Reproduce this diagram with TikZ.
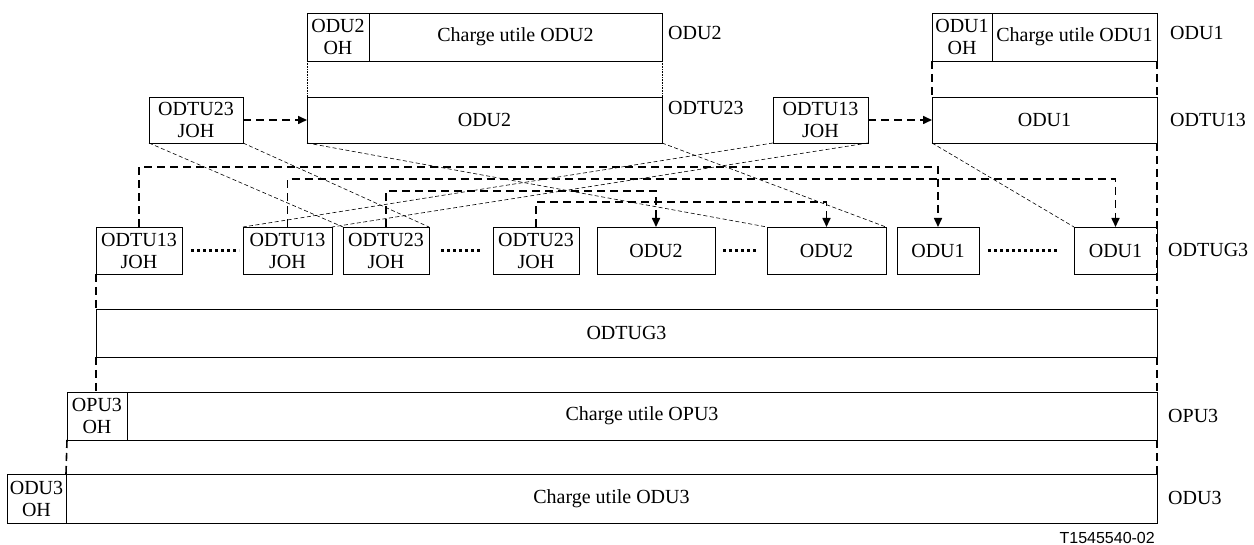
\documentclass[tikz,border=0pt]{standalone}
\usepackage{fontspec}
\setmainfont{Liberation Serif}
\newfontfamily\arialf{Liberation Sans}
\usetikzlibrary{arrows.meta}
\begin{document}
\begin{tikzpicture}[x=1pt,y=-1pt,
 box/.style={draw, line width=0.9pt, inner sep=0pt, outer sep=0pt, align=center, anchor=north west, font=\fontsize{20}{22}\selectfont},
 lbl/.style={anchor=west, inner sep=0pt, font=\fontsize{20}{22}\selectfont},
 bigdash/.style={line width=1.6pt, dash pattern=on 8pt off 5pt},
 thindash/.style={line width=0.6pt, dash pattern=on 4pt off 2.5pt},
 finedot/.style={line width=0.6pt, dash pattern=on 0.8pt off 0.8pt},
 dotrow/.style={line width=3pt, dash pattern=on 3pt off 3pt},
 arr/.style={-{Triangle[length=9pt,width=8pt]}},
]
\useasboundingbox (0,0) rectangle (1254,545);

% top level
\node[box, minimum width=62pt, minimum height=48pt] (odu2oh) at (307,13) {ODU2\\OH};
\node[box, minimum width=293pt, minimum height=48pt] (odu2pl) at (369,13) {Charge utile ODU2};
\node[box, minimum width=60pt, minimum height=48pt] (odu1oh) at (932,13) {ODU1\\OH};
\node[box, minimum width=165pt, minimum height=48pt] (odu1pl) at (992,13) {Charge utile ODU1};

\node[box, minimum width=94pt, minimum height=46pt] (odtu23top) at (149,97) {ODTU23\\JOH};
\node[box, minimum width=355pt, minimum height=46pt] (odu2mid) at (307,97) {ODU2};
\node[box, minimum width=95pt, minimum height=46pt] (odtu13top) at (773,97) {ODTU13\\JOH};
\node[box, minimum width=225pt, minimum height=46pt] (odu1mid) at (932,97) {ODU1};

% labels
\node[lbl] (lodu2) at (668,33) {ODU2};
\node[lbl] (lodtu23) at (668,108) {ODTU23};
\node[lbl] (lodu1) at (1170,33) {ODU1};
\node[lbl] (lodtu13) at (1170,120) {ODTU13};
\node[lbl] (lodtug3) at (1168,250) {ODTUG3};
\node[lbl] (lopu3) at (1168,416) {OPU3};
\node[lbl] (lodu3) at (1168,498) {ODU3};

% ODTUG3 row
\node[box, minimum width=86pt, minimum height=47pt] (odtu13a) at (96,227) {ODTU13\\JOH};
\node[box, minimum width=89pt, minimum height=47pt] (odtu13b) at (243,227) {ODTU13\\JOH};
\node[box, minimum width=86pt, minimum height=47pt] (odtu23a) at (343,227) {ODTU23\\JOH};
\node[box, minimum width=86pt, minimum height=47pt] (odtu23b) at (493,227) {ODTU23\\JOH};
\node[box, minimum width=118pt, minimum height=47pt] (odu2a) at (597,227) {ODU2};
\node[box, minimum width=119pt, minimum height=47pt] (odu2b) at (767,227) {ODU2};
\node[box, minimum width=82pt, minimum height=47pt] (odu1a) at (897,227) {ODU1};
\node[box, minimum width=83pt, minimum height=47pt] (odu1b) at (1074,227) {ODU1};

% big boxes
\node[box, minimum width=1061pt, minimum height=48pt] (odtug3) at (96,309) {ODTUG3};
\node[box, minimum width=60pt, minimum height=48pt] (opu3oh) at (67,392) {OPU3\\OH};
\node[box, minimum width=1030pt, minimum height=48pt] (opu3pl) at (127,392) {Charge utile OPU3};
\node[box, minimum width=59pt, minimum height=49pt] (odu3oh) at (7,474) {ODU3\\OH};
\node[box, minimum width=1091pt, minimum height=49pt] (odu3pl) at (66,474) {Charge utile ODU3};

\node[anchor=east, inner sep=0pt, font=\arialf\fontsize{16}{18}\selectfont] (ref) at (1155,538) {T1545540-02};

% top connections
\draw[finedot] (odu2oh.south west) -- (odu2mid.north west);
\draw[finedot] (odu2pl.south east) -- (odu2mid.north east);
\draw[bigdash] (odu1oh.south west) -- (odu1mid.north west);
\draw[bigdash] (odu1pl.south east) -- (odu1mid.north east);
\draw[bigdash, arr] (odtu23top.east) -- (odu2mid.west);
\draw[bigdash, arr] (odtu13top.east) -- (odu1mid.west);

% mapping lines
\draw[thindash] (odtu23top.south west) -- (odtu23a.north west);
\draw[thindash] (odtu23top.south east) -- (odtu23a.north east);
\draw[thindash] (odu2mid.south west) -- (odu2b.north west);
\draw[thindash] (odu2mid.south east) -- (odu2b.north east);
\draw[thindash] (odtu13top.south west) -- (odtu13b.north west);
\draw[thindash] (odtu13top.south east) -- (odtu13b.north east);
\draw[thindash] (odu1mid.south west) -- (odu1b.north west);

% JOH pointers
\draw[bigdash, arr] (odtu13a.north) -- ++(0,-60) -| (odu1a.north);
\draw[bigdash, arr] (odtu13b.north) -- ++(0,-48) -| (odu1b.north);
\draw[bigdash, arr] (odtu23a.north) -- ++(0,-36) -| (odu2a.north);
\draw[bigdash, arr] (odtu23b.north) -- ++(0,-25) -| (odu2b.north);

% dotted ellipses in row
\draw[dotrow] ([xshift=9pt]odtu13a.east) -- ([xshift=-4pt]odtu13b.west);
\draw[dotrow] ([xshift=12pt]odtu23a.east) -- ([xshift=-10pt]odtu23b.west);
\draw[dotrow] ([xshift=8pt]odu2a.east) -- ([xshift=-10pt]odu2b.west);
\draw[dotrow] ([xshift=9pt]odu1a.east) -- ([xshift=-15pt]odu1b.west);

% vertical links between levels
\draw[bigdash] (odtu13a.south west) -- (odtug3.north west);
\draw[bigdash] (odu1mid.south east) -- (odtug3.north east);
\draw[bigdash] (odtug3.south west) -- (opu3oh.north -| odtug3.south west);
\draw[bigdash] (odtug3.south east) -- (opu3pl.north east);
\draw[bigdash] (opu3oh.south west) -- (odu3pl.north west);
\draw[bigdash] (opu3pl.south east) -- (odu3pl.north east);
\end{tikzpicture}
\end{document}
